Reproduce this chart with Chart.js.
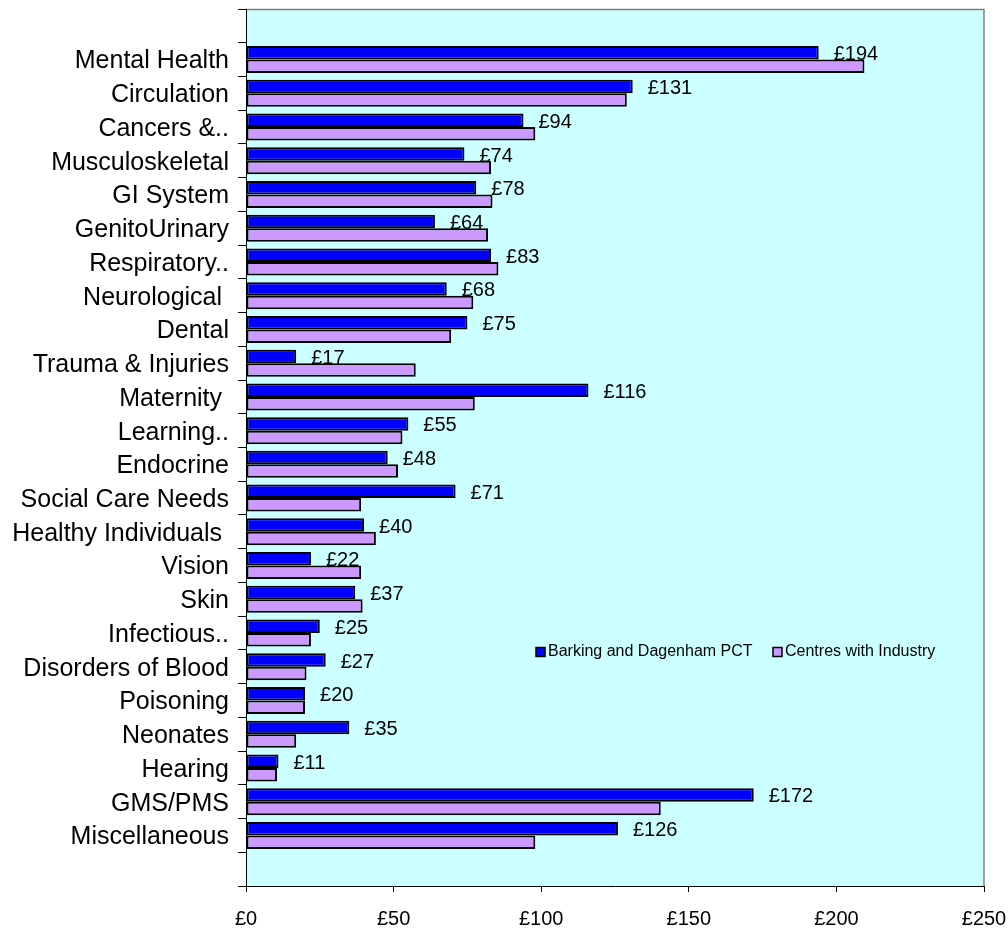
<!DOCTYPE html>
<html>
<head>
<meta charset="utf-8">
<script src="https://cdn.jsdelivr.net/npm/chart.js@4.4.1/dist/chart.umd.min.js"></script>
<style>
  html, body { margin: 0; padding: 0; background: #ffffff; }
  #wrap { width: 1008px; height: 931px; }
</style>
</head>
<body>
<div id="wrap"><canvas id="c" width="1008" height="931"></canvas></div>
<script>
const categories = [
  'Mental Health', 'Circulation', 'Cancers &..', 'Musculoskeletal', 'GI System',
  'GenitoUrinary', 'Respiratory..', 'Neurological ', 'Dental', 'Trauma & Injuries',
  'Maternity ', 'Learning..', 'Endocrine', 'Social Care Needs', 'Healthy Individuals ',
  'Vision', 'Skin', 'Infectious..', 'Disorders of Blood', 'Poisoning',
  'Neonates', 'Hearing', 'GMS/PMS', 'Miscellaneous'
];
const barkingValues = [194, 131, 94, 74, 78, 64, 83, 68, 75, 17, 116, 55, 48, 71, 40, 22, 37, 25, 27, 20, 35, 11, 172, 126];
const centresValues = [209.5, 129, 98, 83, 83.5, 82, 85.5, 77, 69.5, 57.5, 77.5, 53, 51.5, 39, 44, 39, 39.5, 22, 20.5, 20, 17, 10.5, 140.5, 98];
const seriesNames = ['Barking and Dagenham PCT', 'Centres with Industry'];
const xTicks = [0, 50, 100, 150, 200, 250];

// empty bands above and below the categories, as in the original
const labels = [''].concat(categories, ['']);
const pad = arr => [null].concat(arr, [null]);

const FONT = 'Liberation Sans, Arial, sans-serif';

const bgPlugin = {
  id: 'bg',
  beforeDraw(chart) {
    const { ctx, chartArea: a } = chart;
    ctx.save();
    ctx.fillStyle = '#CCFFFF';
    ctx.fillRect(a.left, a.top, a.right - a.left, a.bottom - a.top);
    ctx.strokeStyle = '#808080';
    ctx.lineWidth = 1.5;
    ctx.beginPath();
    ctx.moveTo(a.left, a.top + 0.5);
    ctx.lineTo(a.right, a.top + 0.5);
    ctx.lineTo(a.right, a.bottom);
    ctx.stroke();
    ctx.restore();
  }
};

const valueLabels = {
  id: 'valueLabels',
  afterDatasetsDraw(chart) {
    const { ctx } = chart;
    const meta = chart.getDatasetMeta(0);
    ctx.save();
    ctx.font = '20px ' + FONT;
    ctx.fillStyle = '#000000';
    ctx.textAlign = 'left';
    ctx.textBaseline = 'middle';
    meta.data.forEach((el, i) => {
      const v = chart.data.datasets[0].data[i];
      if (v === null || v === undefined) return;
      ctx.fillText('£' + v, el.x + 15, el.y + 2);
    });
    ctx.restore();
  }
};

const innerLegend = {
  id: 'innerLegend',
  afterDraw(chart) {
    const { ctx } = chart;
    const items = [
      { x: 536, color: '#0000FF', text: seriesNames[0] },
      { x: 773, color: '#CC99FF', text: seriesNames[1] }
    ];
    const cy = 652;
    ctx.save();
    ctx.font = '16px ' + FONT;
    ctx.textAlign = 'left';
    ctx.textBaseline = 'middle';
    items.forEach(it => {
      ctx.fillStyle = it.color;
      ctx.fillRect(it.x, cy - 4.5, 9, 9);
      ctx.strokeStyle = '#000000';
      ctx.lineWidth = 1.5;
      ctx.strokeRect(it.x, cy - 4.5, 9, 9);
      ctx.fillStyle = '#000000';
      ctx.fillText(it.text, it.x + 12, cy);
    });
    ctx.restore();
  }
};

new Chart(document.getElementById('c'), {
  type: 'bar',
  data: {
    labels: labels,
    datasets: [
      {
        label: seriesNames[0],
        data: pad(barkingValues),
        backgroundColor: '#0000FF',
        borderColor: '#000000',
        borderWidth: 2,
        borderSkipped: false,
        categoryPercentage: 0.8,
        barPercentage: 1.0
      },
      {
        label: seriesNames[1],
        data: pad(centresValues),
        backgroundColor: '#CC99FF',
        borderColor: '#000000',
        borderWidth: 2,
        borderSkipped: false,
        categoryPercentage: 0.8,
        barPercentage: 1.0
      }
    ]
  },
  options: {
    indexAxis: 'y',
    responsive: false,
    animation: false,
    devicePixelRatio: 1,
    layout: { padding: { top: 9, right: 24, left: 0, bottom: 0 } },
    plugins: {
      legend: { display: false },
      tooltip: { enabled: false }
    },
    scales: {
      x: {
        type: 'linear',
        min: 0,
        max: 250,
        afterBuildTicks(scale) {
          scale.ticks = xTicks.map(v => ({ value: v }));
        },
        afterFit(scale) {
          scale.height = 45;
          scale.paddingLeft = 0;
          scale.paddingRight = 0;
        },
        border: { display: true, color: '#000000', width: 1 },
        grid: {
          display: true,
          drawOnChartArea: false,
          drawTicks: true,
          tickLength: 6,
          color: '#000000',
          lineWidth: 1
        },
        ticks: {
          padding: 15,
          color: '#000000',
          font: { family: FONT, size: 20 },
          maxRotation: 0,
          autoSkip: false,
          callback: v => '£' + v
        }
      },
      y: {
        type: 'category',
        afterFit(scale) {
          scale.width = 246;
          scale.paddingTop = 0;
          scale.paddingBottom = 0;
        },
        border: { display: true, color: '#000000', width: 1 },
        grid: {
          display: true,
          offset: true,
          drawOnChartArea: false,
          drawTicks: true,
          tickLength: 8,
          color: '#000000',
          lineWidth: 1
        },
        ticks: {
          padding: 9,
          labelOffset: 2,
          color: '#000000',
          font: { family: FONT, size: 25 },
          autoSkip: false
        }
      }
    }
  },
  plugins: [bgPlugin, valueLabels, innerLegend]
});
</script>
</body>
</html>
